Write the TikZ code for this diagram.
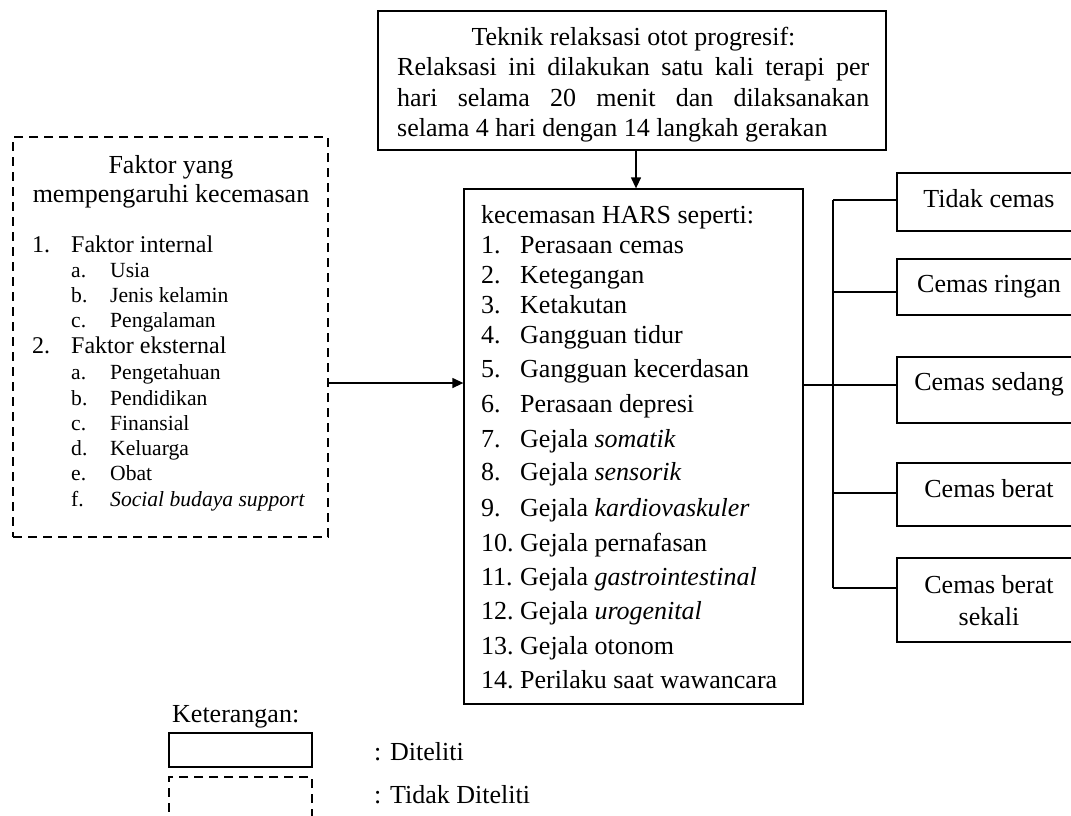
\documentclass[tikz,border=0pt]{standalone}
\usepackage{fontspec}
\setmainfont{Liberation Serif}
\usetikzlibrary{arrows.meta}
\newcommand\fsbig{\fontsize{26}{30}\selectfont}
\newcommand\fsmid{\fontsize{24}{28}\selectfont}
\newcommand\fssml{\fontsize{21.6}{25}\selectfont}
\begin{document}
\begin{tikzpicture}[x=1pt,y=-1pt,
  sbox/.style={draw, line width=1.3pt, inner sep=0pt},
  dbox/.style={draw, line width=2.6pt, dash pattern=on 9pt off 6pt, inner sep=0pt},
  txt/.style={inner sep=0pt, font=\fsbig},
  mtxt/.style={inner sep=0pt, font=\fsmid},
  stxt/.style={inner sep=0pt, font=\fssml},
  arr/.style={line width=1.3pt, -{Triangle[length=11pt,width=10pt]}},
  ln/.style={line width=1.3pt}]
\useasboundingbox (0,0) rectangle (1071,815);
\clip (0,0) rectangle (1071,815);

% ---------- boxes ----------
\node[sbox, minimum width=508pt, minimum height=139pt] (top) at (632,80.5) {};
\node[sbox, minimum width=339pt, minimum height=515pt] (mid) at (633.5,446.5) {};
\node[dbox, minimum width=315pt, minimum height=400pt] (left) at (170.5,337) {};
\node[sbox, minimum width=184pt, minimum height=58pt] (r1) at (989,202) {};
\node[sbox, minimum width=184pt, minimum height=56pt] (r2) at (989,287) {};
\node[sbox, minimum width=184pt, minimum height=66pt] (r3) at (989,390) {};
\node[sbox, minimum width=184pt, minimum height=63pt] (r4) at (989,494.5) {};
\node[sbox, minimum width=184pt, minimum height=84pt] (r5) at (989,600) {};
\node[sbox, minimum width=143pt, minimum height=34pt] (lg1) at (240.5,750) {};
\node[dbox, minimum width=143pt, minimum height=63pt] (lg2) at (240.5,808.5) {};

% ---------- top box text ----------
\node[txt, anchor=base] (t1) at (633.5,45) {Teknik relaksasi otot progresif:};
\node[txt, anchor=base west] (t2) at (397,75) {\makebox[472pt][s]{Relaksasi ini dilakukan satu kali terapi per}};
\node[txt, anchor=base west] (t3) at (397,106) {\makebox[472pt][s]{hari selama 20 menit dan dilaksanakan}};
\node[txt, anchor=base west] (t4) at (397,136) {selama 4 hari dengan 14 langkah gerakan};

% ---------- left box text ----------
\node[txt, anchor=base] (h1) at (171,173) {Faktor yang};
\node[txt, anchor=base] (h2) at (171,202) {mempengaruhi kecemasan};
\node[mtxt, anchor=base west] (n1) at (32,252) {1.};
\node[mtxt, anchor=base west] (f1) at (71,252) {Faktor internal};
\node[stxt, anchor=base west] (a1) at (71,277) {a.};
\node[stxt, anchor=base west] (a1t) at (110,277) {Usia};
\node[stxt, anchor=base west] (b1) at (71,302) {b.};
\node[stxt, anchor=base west] (b1t) at (110,302) {Jenis kelamin};
\node[stxt, anchor=base west] (c1) at (71,327) {c.};
\node[stxt, anchor=base west] (c1t) at (110,327) {Pengalaman};
\node[mtxt, anchor=base west] (n2) at (32,353) {2.};
\node[mtxt, anchor=base west] (f2) at (71,353) {Faktor eksternal};
\node[stxt, anchor=base west] (a2) at (71,379) {a.};
\node[stxt, anchor=base west] (a2t) at (110,379) {Pengetahuan};
\node[stxt, anchor=base west] (b2) at (71,405) {b.};
\node[stxt, anchor=base west] (b2t) at (110,405) {Pendidikan};
\node[stxt, anchor=base west] (c2) at (71,430) {c.};
\node[stxt, anchor=base west] (c2t) at (110,430) {Finansial};
\node[stxt, anchor=base west] (d2) at (71,455) {d.};
\node[stxt, anchor=base west] (d2t) at (110,455) {Keluarga};
\node[stxt, anchor=base west] (e2) at (71,480) {e.};
\node[stxt, anchor=base west] (e2t) at (110,480) {Obat};
\node[stxt, anchor=base west] (g2) at (71,506) {f.};
\node[stxt, anchor=base west] (g2t) at (110,506) {\itshape Social budaya support};

% ---------- middle box text ----------
\node[txt, anchor=base west] (m0) at (481,223) {kecemasan HARS seperti:};
\foreach \n/\y/\t in {1/253/Perasaan cemas, 2/283/Ketegangan, 3/313/Ketakutan,
  4/343/Gangguan tidur, 5/377/Gangguan kecerdasan, 6/412/Perasaan depresi,
  7/447/Gejala \textit{somatik}, 8/480/Gejala \textit{sensorik},
  9/516/Gejala \textit{kardiovaskuler}, 10/551/Gejala pernafasan,
  11/585/Gejala \textit{gastrointestinal}, 12/619/Gejala \textit{urogenital},
  13/654/Gejala otonom, 14/688/Perilaku saat wawancara}{
  \node[txt, anchor=base west] (mn\n) at (481,\y) {\n.};
  \node[txt, anchor=base west] (mt\n) at (520,\y) {\t};
}

% ---------- right box text ----------
\node[txt, anchor=base] (r1t) at (989,207) {Tidak cemas};
\node[txt, anchor=base] (r2t) at (989,292) {Cemas ringan};
\node[txt, anchor=base] (r3t) at (989,390) {Cemas sedang};
\node[txt, anchor=base] (r4t) at (989,497) {Cemas berat};
\node[txt, anchor=base] (r5t) at (989,593) {Cemas berat};
\node[txt, anchor=base] (r5u) at (989,625) {sekali};

% ---------- legend ----------
\node[txt, anchor=base west] (ket) at (172,722) {Keterangan:};
\node[txt, anchor=base west] (lt1) at (374,760) {: Diteliti};
\node[txt, anchor=base west] (lt2) at (374,803) {: Tidak Diteliti};

% ---------- connectors ----------
\draw[arr] ([xshift=4pt]top.south) -- ([xshift=4pt]top.south |- mid.north);
\coordinate (la) at (328,383);
\draw[arr] (la) -- (la -| mid.west);
\coordinate (ra) at (803,385);
\coordinate (bt) at (833,200);
\coordinate (bm2) at (833,292);
\coordinate (bm3) at (833,385);
\coordinate (bm4) at (833,493);
\coordinate (bb) at (833,588);
\draw[ln] (ra -| mid.east) -- (bm3);
\draw[ln] (bt) -- (bb);
\draw[ln] (bt) -- (bt -| r1.west);
\draw[ln] (bm2) -- (bm2 -| r2.west);
\draw[ln] (bm3) -- (bm3 -| r3.west);
\draw[ln] (bm4) -- (bm4 -| r4.west);
\draw[ln] (bb) -- (bb -| r5.west);
\end{tikzpicture}
\end{document}
